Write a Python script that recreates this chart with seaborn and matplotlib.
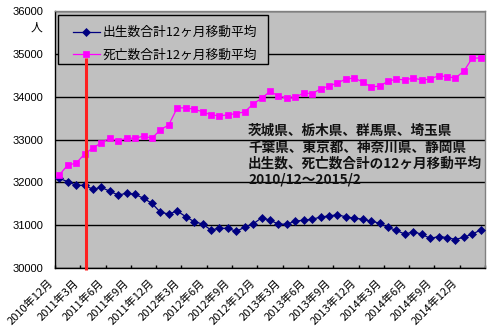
import numpy as np
import pandas as pd
import matplotlib
matplotlib.use("Agg")
import matplotlib.pyplot as plt
import matplotlib.transforms as mtransforms
from matplotlib.patches import Rectangle
import seaborn as sns

# ---- data ----
months = []
y, m = 2010, 12
for _ in range(51):
    months.append(f"{y}年{m}月")
    m += 1
    if m > 12:
        m = 1
        y += 1

births = [32093, 32016, 31930, 31930, 31837, 31883, 31790, 31704, 31743, 31720,
          31627, 31510, 31300, 31261, 31331, 31199, 31082, 31027, 30887, 30926,
          30926, 30856, 30952, 31030, 31171, 31117, 31023, 31023, 31093, 31117,
          31140, 31187, 31218, 31241, 31195, 31163, 31140, 31093, 31047, 30946,
          30876, 30790, 30844, 30790, 30689, 30735, 30712, 30665, 30720, 30790,
          30891]
deaths = [32171, 32401, 32448, 32658, 32805, 32922, 33031, 32969, 33031, 33031,
          33078, 33031, 33226, 33342, 33739, 33739, 33708, 33646, 33576, 33552,
          33576, 33607, 33644, 33831, 33961, 34124, 34016, 33961, 33984, 34086,
          34070, 34179, 34249, 34319, 34412, 34436, 34342, 34226, 34249, 34358,
          34412, 34389, 34436, 34389, 34412, 34490, 34467, 34436, 34599, 34902,
          34902]
series_names = ["出生数合計12ヶ月移動平均", "死亡数合計12ヶ月移動平均"]
yticks = [30000, 31000, 32000, 33000, 34000, 35000, 36000]
label_every = 3
event_pos = 3.12          # 2011年3月 (earthquake marker)
event_range = (34900, 29950)
note_lines = ["茨城県、栃木県、群馬県、埼玉県",
              "千葉県、東京都、神奈川県、静岡県",
              "出生数、死亡数合計の12ヶ月移動平均",
              "2010/12～2015/2"]
unit_label = "人"

df = pd.DataFrame({"idx": np.arange(len(months)), "month": months,
                   "birth": births, "death": deaths})

# ---- figure ----
W, H, DPI = 491, 335, 100
fig = plt.figure(figsize=(W / DPI, H / DPI), dpi=DPI)
fig.patch.set_facecolor("white")
L, R, T, B = 55, 485, 11, 268
ax = fig.add_axes([L / W, (H - B) / H, (R - L) / W, (B - T) / H])
ax.set_facecolor("#C0C0C0")

jp = ["Noto Sans CJK JP", "DejaVu Sans"]

sns.lineplot(data=df, x="idx", y="birth", ax=ax, color="#000080", lw=0.9,
             marker="D", markersize=4.0, markeredgecolor="#000080",
             markeredgewidth=0.5, label=series_names[0], zorder=3)
sns.lineplot(data=df, x="idx", y="death", ax=ax, color="#FF00FF", lw=0.9,
             marker="s", markersize=4.4, markeredgecolor="#FF00FF",
             markeredgewidth=0.5, label=series_names[1], zorder=3)

ax.set_xlim(-0.5, len(months) - 0.5)
ax.set_ylim(yticks[0], yticks[-1])
ax.set_xlabel("")
ax.set_ylabel("")

# y axis
ax.set_yticks(yticks)
ax.set_yticklabels([str(v) for v in yticks], family=["Liberation Sans", "DejaVu Sans"],
                   fontsize=8, color="#000000")
ax.tick_params(axis="y", length=0, pad=8.6)
ax.yaxis.grid(True, color="black", lw=1)
ax.xaxis.grid(False)
ax.set_axisbelow(True)

# x axis
major = list(range(0, len(months), label_every))
ax.set_xticks(major)
ax.set_xticklabels([months[i] for i in major], family=jp, fontsize=8.0,
                   rotation=45, rotation_mode="anchor", ha="right", va="center")
ax.tick_params(axis="x", which="major", length=0, pad=9.5)
ax.set_xticks(np.arange(-0.5, len(months), label_every), minor=True)
ax.tick_params(axis="x", which="minor", direction="in", length=2.3, width=1,
               color="black")
offset = mtransforms.ScaledTranslation(-8 / DPI, 0, fig.dpi_scale_trans)
for lab in ax.get_xticklabels():
    lab.set_transform(lab.get_transform() + offset)

for s in ["left", "bottom"]:
    ax.spines[s].set_color("black")
    ax.spines[s].set_linewidth(1)
for s in ["top", "right"]:
    ax.spines[s].set_color("#808080")
    ax.spines[s].set_linewidth(1)

# event line
ax.vlines(event_pos, event_range[1], event_range[0], color="#FF2020",
          lw=2.2, clip_on=False, zorder=8)

# legend (frame drawn separately)
lx0, ly0, lx1, ly1 = 58, 15, 268, 64
ax.add_patch(Rectangle((lx0 / W, 1 - ly1 / H), (lx1 - lx0) / W,
                       (ly1 - ly0) / H, transform=fig.transFigure,
                       facecolor="#C0C0C0", edgecolor="black", lw=1,
                       zorder=5, clip_on=False))
leg = ax.legend(loc="upper left", bbox_to_anchor=(73 / W, 1 - 26 / H),
                bbox_transform=fig.transFigure, frameon=False,
                prop={"family": jp, "size": 9.2}, handlelength=2.1,
                handletextpad=0.25, borderpad=0, borderaxespad=0,
                labelspacing=0.75)
leg.set_zorder(6)

# unit label
fig.text(36 / W, 1 - 27 / H, unit_label, family=jp, fontsize=8.5,
         ha="center", va="center")

# note text
for i, line in enumerate(note_lines):
    yy = [131, 147.5, 164, 179.5][i]
    fig.text(248 / W, 1 - yy / H, line, family=jp, fontsize=9.8,
             fontweight="bold", ha="left", va="center", color="#111111")

fig.savefig("out.png", dpi=DPI)
